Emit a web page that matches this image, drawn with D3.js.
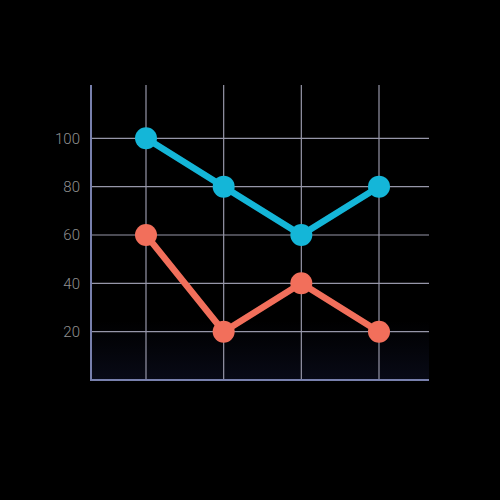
<!DOCTYPE html>
<html><head><meta charset="utf-8">
<script src="https://cdn.jsdelivr.net/npm/d3@7"></script>
<style>html,body{margin:0;padding:0;background:#000;}</style>
</head><body>
<script>
const categories = ["A", "B", "C", "D"];
const seriesBlue = [100, 80, 60, 80];
const seriesRed = [60, 20, 40, 20];
const yTicks = [20, 40, 60, 80, 100];

(function () {
const W = 500, H = 500;
const svg = d3.select("body").append("svg").attr("width", W).attr("height", H)
  .style("background", "#000").style("display", "block");

const defs = svg.append("defs");
const grad = defs.append("linearGradient").attr("id", "bg").attr("x1", 0).attr("y1", 0).attr("x2", 0).attr("y2", 1);
grad.append("stop").attr("offset", "0.8").attr("stop-color", "#000");
grad.append("stop").attr("offset", "1").attr("stop-color", "#080a16");

const mLeft = 91, mRight = 429, mTop = 85, mBottom = 380;
const x = d3.scalePoint().domain(categories).range([146, 379]);
const y = d3.scaleLinear().domain([0, 100]).range([mBottom, 138.3]);

svg.append("rect").attr("x", mLeft).attr("y", mTop).attr("width", mRight - mLeft).attr("height", mBottom - mTop)
  .attr("fill", "url(#bg)");

const grid = svg.append("g");
grid.selectAll("line.h").data(yTicks).join("line").attr("class", "h")
  .attr("x1", mLeft).attr("x2", mRight)
  .attr("y1", d => y(d)).attr("y2", d => y(d))
  .attr("stroke", "#9696a8").attr("stroke-width", 1.2);
grid.selectAll("line.v").data(categories).join("line").attr("class", "v")
  .attr("x1", d => x(d)).attr("x2", d => x(d))
  .attr("y1", mTop).attr("y2", mBottom)
  .attr("stroke", "#9696a8").attr("stroke-width", 1.2);

svg.selectAll("text.yt").data(yTicks).join("text").attr("class", "yt")
  .attr("x", 80).attr("y", d => y(d)).attr("dy", "0.36em")
  .attr("text-anchor", "end")
  .attr("font-family", "Roboto, 'Open Sans', sans-serif").attr("font-weight", 300)
  .attr("font-size", 15).attr("fill", "#909090")
  .text(d => d);

svg.append("line").attr("x1", mLeft).attr("x2", mLeft).attr("y1", mTop).attr("y2", mBottom + 1)
  .attr("stroke", "#7880ad").attr("stroke-width", 2);
svg.append("line").attr("x1", mLeft).attr("x2", mRight).attr("y1", mBottom).attr("y2", mBottom)
  .attr("stroke", "#7880ad").attr("stroke-width", 2);

function drawSeries(vals, color) {
  const data = categories.map((c, i) => ({c, v: vals[i]}));
  const line = d3.line().x(d => x(d.c)).y(d => y(d.v));
  svg.append("path").datum(data).attr("d", line).attr("fill", "none")
    .attr("stroke", color).attr("stroke-width", 6.5).attr("stroke-linejoin", "round");
  svg.append("g").selectAll("circle").data(data).join("circle")
    .attr("cx", d => x(d.c)).attr("cy", d => y(d.v)).attr("r", 11)
    .attr("fill", color);
}
drawSeries(seriesRed, "#f26f5b");
drawSeries(seriesBlue, "#14b6d8");
})();
</script>
</body></html>
